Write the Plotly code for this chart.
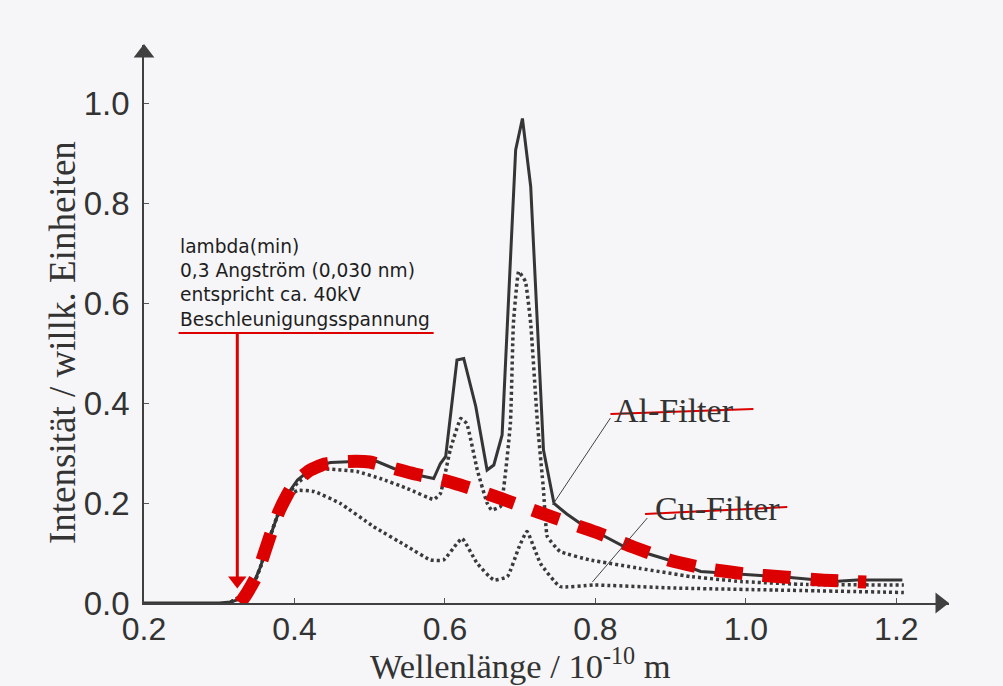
import plotly.graph_objects as go

# ---- data ----
x_solid = [0.20, 0.30, 0.315, 0.324, 0.342, 0.355, 0.366, 0.377, 0.390, 0.404, 0.426, 0.448, 0.479,
           0.510, 0.532, 0.563, 0.585, 0.594, 0.601, 0.616, 0.625, 0.641, 0.656, 0.665, 0.676,
           0.694, 0.703, 0.714, 0.731, 0.745, 0.762, 0.780, 0.838, 0.904, 0.940, 0.993, 1.059,
           1.117, 1.148, 1.208]
y_solid = [0.0, 0.0, 0.002, 0.006, 0.026, 0.073, 0.126, 0.173, 0.216, 0.246, 0.273, 0.281, 0.283,
           0.283, 0.269, 0.256, 0.249, 0.279, 0.293, 0.486, 0.489, 0.393, 0.266, 0.276, 0.336,
           0.906, 0.969, 0.833, 0.306, 0.199, 0.178, 0.159, 0.113, 0.083, 0.063, 0.058, 0.051,
           0.043, 0.046, 0.046]

x_al = [0.315, 0.342, 0.355, 0.366, 0.377, 0.390, 0.404, 0.420, 0.439, 0.483, 0.514, 0.550, 0.585,
        0.594, 0.607, 0.621, 0.629, 0.643, 0.656, 0.662, 0.674, 0.687, 0.691, 0.698, 0.707, 0.714,
        0.723, 0.731, 0.736, 0.753, 0.793, 0.860, 0.926, 0.993, 1.081, 1.210]
y_al = [0.002, 0.026, 0.073, 0.126, 0.173, 0.214, 0.240, 0.258, 0.268, 0.263, 0.249, 0.229, 0.207,
        0.219, 0.306, 0.369, 0.359, 0.266, 0.200, 0.186, 0.193, 0.359, 0.559, 0.663, 0.643, 0.559,
        0.359, 0.226, 0.133, 0.103, 0.086, 0.069, 0.053, 0.043, 0.037, 0.036]

x_cu = [0.315, 0.342, 0.355, 0.366, 0.377, 0.390, 0.404, 0.426, 0.461, 0.505, 0.550, 0.581, 0.598,
        0.616, 0.623, 0.643, 0.665, 0.683, 0.698, 0.709, 0.727, 0.753, 0.798, 0.904, 1.037, 1.210]
y_cu = [0.002, 0.026, 0.073, 0.126, 0.173, 0.210, 0.225, 0.223, 0.199, 0.153, 0.113, 0.086, 0.086,
        0.119, 0.129, 0.079, 0.046, 0.053, 0.110, 0.143, 0.079, 0.033, 0.036, 0.030, 0.026, 0.021]

x_red = [0.328, 0.337, 0.35, 0.36, 0.37, 0.38, 0.39, 0.40, 0.42, 0.44, 0.47, 0.50, 0.53, 0.56, 0.60,
         0.65, 0.70, 0.75, 0.80, 0.85, 0.90, 0.95, 1.00, 1.05, 1.10, 1.16]
y_red = [0.0, 0.02, 0.055, 0.10, 0.145, 0.185, 0.215, 0.24, 0.265, 0.278, 0.283, 0.282, 0.27, 0.258,
         0.245, 0.222, 0.195, 0.168, 0.142, 0.112, 0.085, 0.068, 0.058, 0.052, 0.046, 0.042]

x_ticks = [0.2, 0.4, 0.6, 0.8, 1.0, 1.2]
x_ticklabels = ["0.2", "0.4", "0.6", "0.8", "1.0", "1.2"]
y_ticks = [0.0, 0.2, 0.4, 0.6, 0.8, 1.0]
y_ticklabels = ["0.0", "0.2", "0.4", "0.6", "0.8", "1.0"]

x_range = [0.2, 1.27]
y_range = [0.0, 1.116]
lambda_min = 0.324          # position of the lambda(min) marker
note_level = 0.54           # height of the note underline

x_title = "Wellenlänge / 10<sup>-10</sup> m"
y_title = "Intensität / willk. Einheiten"
note_lines = ["lambda(min)", "0,3 Angström (0,030 nm)", "entspricht ca. 40kV", "Beschleunigungsspannung"]
label_al = "Al-Filter"
label_cu = "Cu-Filter"

# ---- styles ----
RED = "#dc0000"
INK = "#333333"
AXIS = "#404040"
SERIF = "Liberation Serif"
SANS = "Liberation Sans"
BG = "#f6f6f8"
ML, MR, MT, MB = 144, 54, 45, 83
PW, PH = 1003 - ML - MR, 686 - MT - MB

fig = go.Figure()
fig.add_trace(go.Scatter(x=x_cu, y=y_cu, mode="lines", line=dict(color="#3a3a3a", width=3.5, dash="3px,3px", shape="spline", smoothing=0.4), hoverinfo="skip"))
fig.add_trace(go.Scatter(x=x_al, y=y_al, mode="lines", line=dict(color="#3a3a3a", width=3.5, dash="3px,3px", shape="spline", smoothing=0.3), hoverinfo="skip"))
fig.add_trace(go.Scatter(x=x_solid, y=y_solid, mode="lines", line=dict(color="#353535", width=3), hoverinfo="skip"))
fig.add_trace(go.Scatter(x=x_red, y=y_red, mode="lines", line=dict(color=RED, width=13, dash="28px,20px", shape="spline", smoothing=0.5), hoverinfo="skip"))

# arrow heads (axes and lambda(min) marker)
fig.add_trace(go.Scatter(x=[1.258, 0.2], y=[0.0, 1.10], mode="markers", cliponaxis=False, hoverinfo="skip",
                         marker=dict(symbol=["triangle-right", "triangle-up"], size=18, color=AXIS,
                                     line=dict(width=0))))
fig.add_trace(go.Scatter(x=[lambda_min], y=[0.045], mode="markers", cliponaxis=False, hoverinfo="skip",
                         marker=dict(symbol="triangle-down", size=16, color=RED, line=dict(width=0))))

ann = []
ann.append(dict(x=0.2458, y=0.641, xref="x", yref="y", xanchor="left", yanchor="middle", align="left",
                text="<br>".join(note_lines), showarrow=False,
                font=dict(family="DejaVu Sans", size=18.6, color="#1e1e1e")))
ann.append(dict(x=0.905, y=0.385, xref="x", yref="y", text=label_al, showarrow=False,
                font=dict(family=SERIF, size=34, color=INK)))
ann.append(dict(x=0.962, y=0.19, xref="x", yref="y", text=label_cu, showarrow=False,
                font=dict(family=SERIF, size=34, color=INK)))
# axis titles (paper coordinates)
ann.append(dict(x=(520 - ML) / PW, y=(603 - 663) / PH, xref="paper", yref="paper",
                xanchor="center", yanchor="middle", text=x_title, showarrow=False,
                font=dict(family=SERIF, size=34.5, color=INK)))
ann.append(dict(x=(62 - ML) / PW, y=(603 - 343) / PH, xref="paper", yref="paper",
                xanchor="center", yanchor="middle", text=y_title, showarrow=False, textangle=-90,
                font=dict(family=SERIF, size=37, color=INK)))

shapes = [
    dict(type="line", xref="x", yref="y", x0=0.246, y0=note_level, x1=0.585, y1=note_level, line=dict(color=RED, width=2)),
    dict(type="line", xref="x", yref="y", x0=lambda_min, y0=note_level, x1=lambda_min, y1=0.05, line=dict(color=RED, width=3)),
    dict(type="line", xref="x", yref="y", x0=0.820, y0=0.378, x1=1.010, y1=0.388, line=dict(color=RED, width=2)),
    dict(type="line", xref="x", yref="y", x0=0.866, y0=0.178, x1=1.055, y1=0.192, line=dict(color=RED, width=2)),
    dict(type="line", xref="x", yref="y", x0=0.820, y0=0.370, x1=0.743, y1=0.196, line=dict(color="#444", width=1)),
    dict(type="line", xref="x", yref="y", x0=0.869, y0=0.170, x1=0.796, y1=0.042, line=dict(color="#444", width=1)),
]

fig.update_layout(
    width=1003, height=686,
    margin=dict(l=ML, r=MR, t=MT, b=MB),
    paper_bgcolor=BG, plot_bgcolor=BG,
    showlegend=False,
    annotations=ann, shapes=shapes,
    xaxis=dict(range=x_range, showgrid=False, zeroline=False,
               showline=True, linecolor=AXIS, linewidth=1.6,
               ticks="inside", ticklen=5, tickwidth=1.2, tickcolor="#555",
               tickvals=x_ticks, ticktext=x_ticklabels, ticklabelstandoff=-3,
               tickfont=dict(family=SANS, size=32, color=INK)),
    yaxis=dict(range=y_range, showgrid=False, zeroline=False,
               showline=True, linecolor=AXIS, linewidth=1.6,
               ticks="inside", ticklen=5, tickwidth=1.2, tickcolor="#555",
               tickvals=y_ticks, ticktext=y_ticklabels, ticklabelstandoff=6,
               tickfont=dict(family=SANS, size=33, color=INK)),
)

fig.write_html("out.html", config={"displayModeBar": False},
               post_script="document.body.style.margin='0';")
